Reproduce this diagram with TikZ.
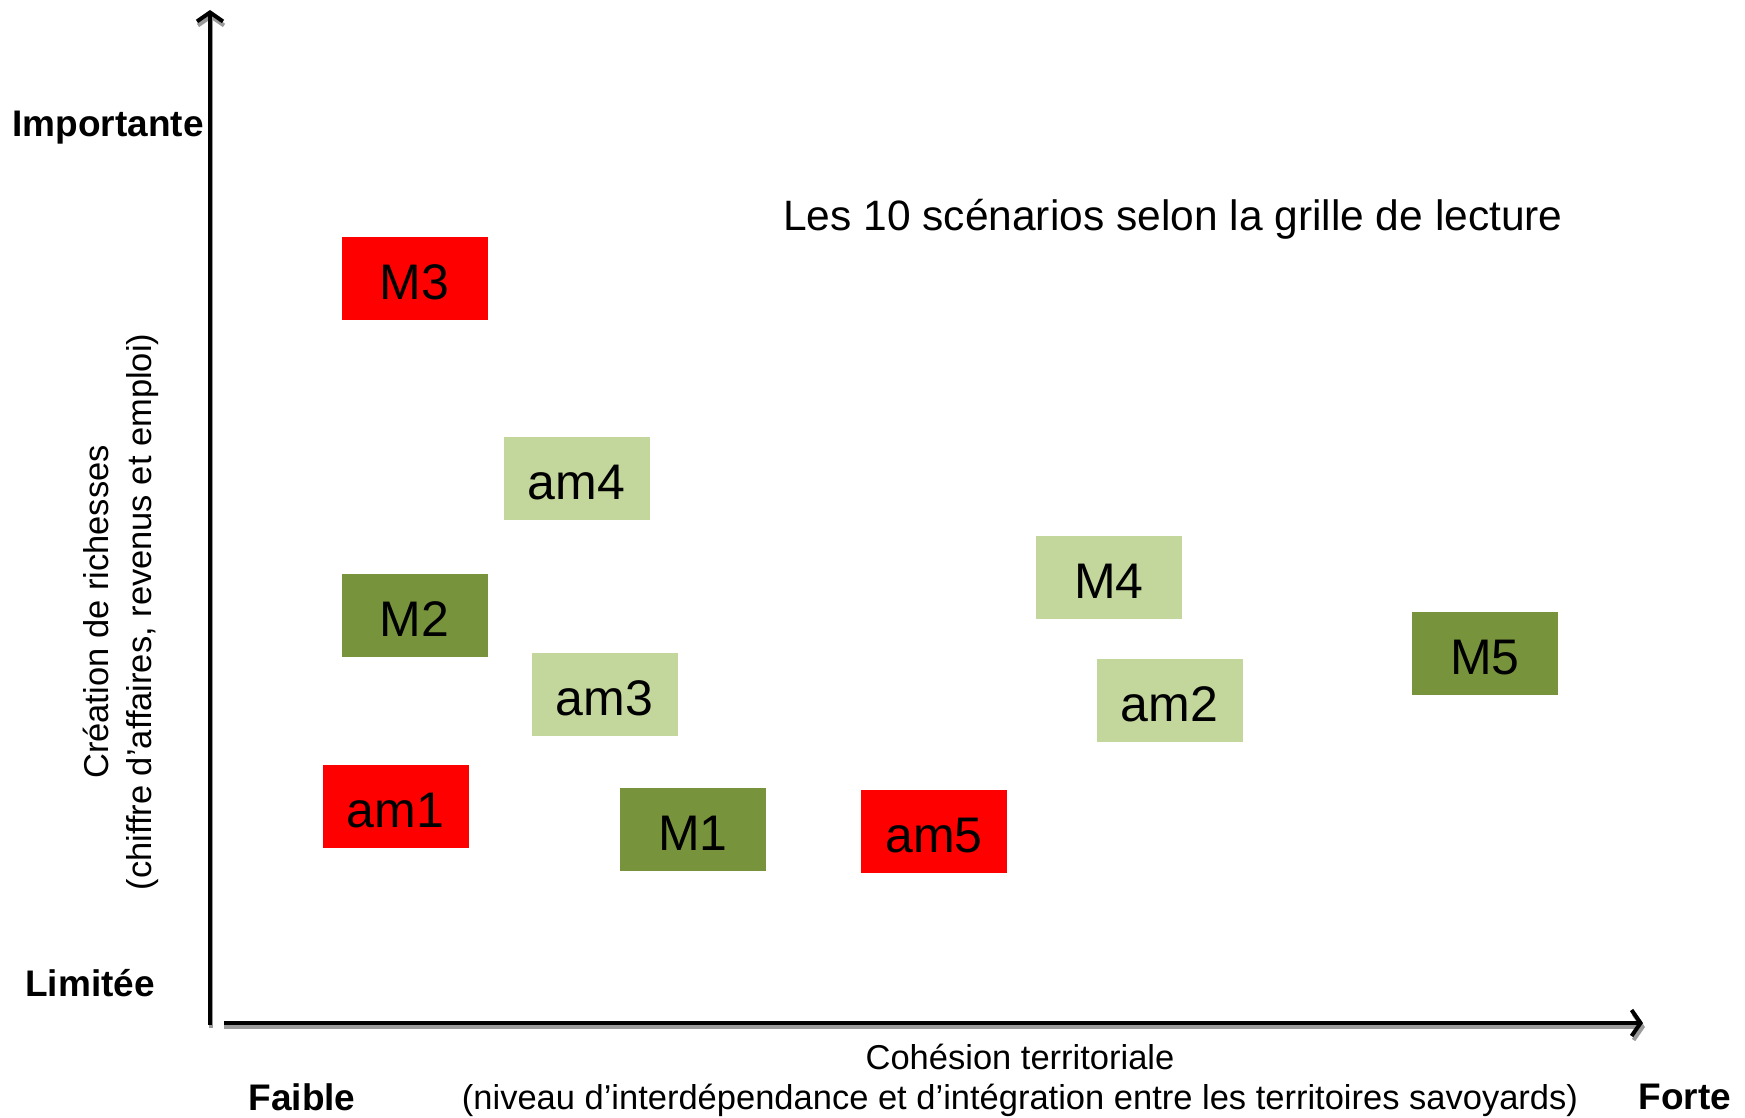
\documentclass[tikz,border=0pt]{standalone}
\usepackage{fontspec}
\setmainfont{Liberation Sans}
\usetikzlibrary{arrows.meta}
\definecolor{redbox}{HTML}{FF0000}
\definecolor{darkgreen}{HTML}{77933C}
\definecolor{lightgreen}{HTML}{C3D69B}
\definecolor{shadowgray}{HTML}{9A9A9A}
\begin{document}
\begin{tikzpicture}[x=1pt,y=-1pt,
  scen/.style={minimum width=146pt,minimum height=83pt,inner sep=0pt,anchor=center,
    font=\fontsize{50}{60}\selectfont,text height=42pt,text depth=0pt},
  rbox/.style={scen,fill=redbox},
  dbox/.style={scen,fill=darkgreen},
  lbox/.style={scen,fill=lightgreen},
  axis/.style={line width=4.5pt,-{Straight Barb[length=9pt,width=26pt,line width=4pt]}},
  axshadow/.style={line width=4.5pt,draw=shadowgray,-{Straight Barb[length=9pt,width=26pt,line width=4pt]}},
  boldlab/.style={font=\fontsize{37}{44}\selectfont\bfseries,inner sep=0pt},
  reglab/.style={font=\fontsize{34.5}{40}\selectfont,inner sep=0pt,align=center}
]
\useasboundingbox (0,0) rectangle (1745,1118);
\coordinate (yb) at (210,1025);
\coordinate (yt) at (210,10);
\coordinate (xb) at (224,1023);
\coordinate (xe) at (1643,1023);
\coordinate (ybs) at (211,1028);
\coordinate (yts) at (211,14);
\coordinate (xbs) at (224,1027);
\coordinate (xes) at (1645,1027);
\draw[axshadow] (ybs) -- (yts);
\draw[axshadow] (xbs) -- (xes);
\draw[axis] (yb) -- (yt);
\draw[axis] (xb) -- (xe);

\node[rbox] (M3) at (414.5,278) {M3};
\node[lbox] (am4) at (576.5,478.5) {am4};
\node[dbox] (M2) at (414.5,615) {M2};
\node[lbox] (am3) at (604.5,694) {am3};
\node[rbox] (am1) at (395.5,806) {am1};
\node[dbox] (M1) at (693,829) {M1};
\node[rbox] (am5) at (934,831) {am5};
\node[lbox] (M4) at (1109,577.5) {M4};
\node[lbox] (am2) at (1169.5,700) {am2};
\node[dbox] (M5) at (1485,653) {M5};

\node[boldlab] (imp) at (108,128) {Importante};
\node[boldlab] (lim) at (90,983) {Limitée};
\node[boldlab] (faible) at (302,1097) {Faible};
\node[boldlab] (forte) at (1685,1097) {Forte};
\node[font=\fontsize{42.5}{50}\selectfont,inner sep=0pt] (title) at (1173,219) {Les 10 scénarios selon la grille de lecture};
\node[reglab] (xl1) at (1020,1057) {Cohésion territoriale};
\node[reglab] (xl2) at (1020,1100) {(niveau d’interdépendance et d’intégration entre les territoires savoyards)};
\node[reglab,rotate=90,font=\fontsize{34.5}{43}\selectfont] (yl) at (121,612) {Création de richesses\\(chiffre d’affaires, revenus et emploi)};
\end{tikzpicture}
\end{document}
